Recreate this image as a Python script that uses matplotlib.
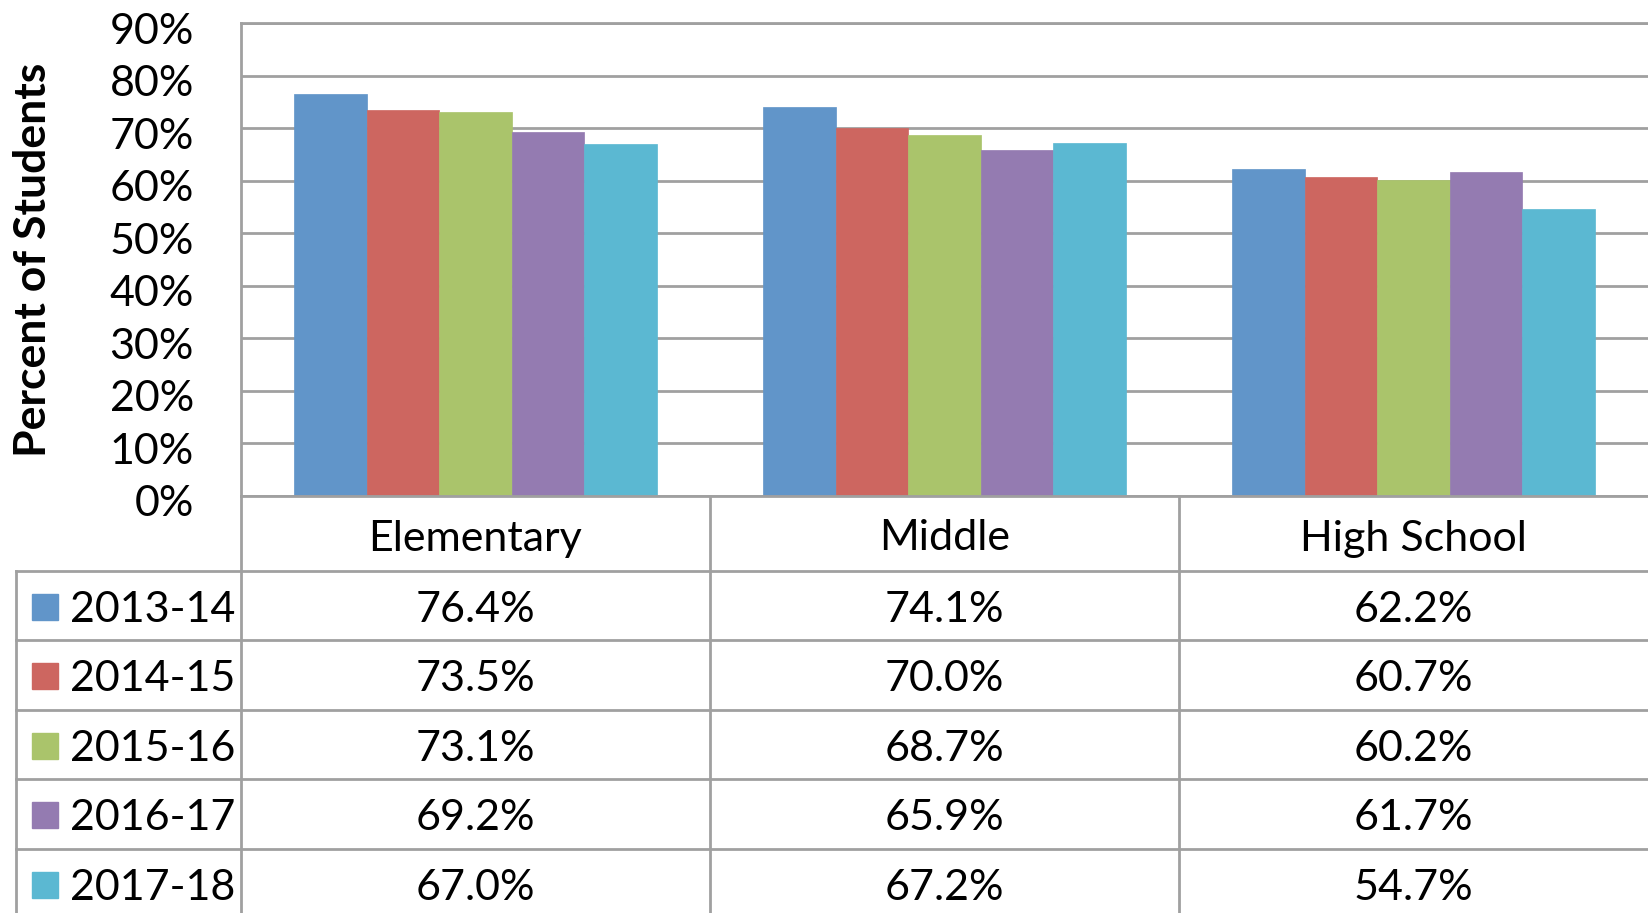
import matplotlib
matplotlib.use("Agg")
import matplotlib.pyplot as plt
import matplotlib.transforms as mtransforms
import numpy as np

plt.rcParams['font.family'] = ['Lato', 'DejaVu Sans']

# data
categories = ['Elementary', 'Middle', 'High School']
years = ['2013-14', '2014-15', '2015-16', '2016-17', '2017-18']
values = [
    [76.4, 74.1, 62.2],
    [73.5, 70.0, 60.7],
    [73.1, 68.7, 60.2],
    [69.2, 65.9, 61.7],
    [67.0, 67.2, 54.7],
]
colors = ['#6195C9', '#CD6660', '#AAC46B', '#947BB1', '#5BB8D2']
yticks = [0, 10, 20, 30, 40, 50, 60, 70, 80, 90]

# layout in pixels (figure 1648 x 913)
W, H = 1648, 913
ax_left, ax_top, ax_bot = 241, 23, 496
header_bot = 571
row_h = 69.5
leg_left = 16
grid_col = '#A0A0A0'
fs = 31

fig = plt.figure(figsize=(W / 100, H / 100), dpi=100)
ax = fig.add_axes([ax_left / W, 1 - ax_bot / H, (W - ax_left) / W, (ax_bot - ax_top) / H])

n = len(years)
bw = 0.773 / n
x = np.arange(len(categories))
for i, yr in enumerate(years):
    ax.bar(x - 0.773 / 2 + bw * (i + 0.5), values[i], width=bw, color=colors[i],
           edgecolor=colors[i], linewidth=0.5, zorder=3)

ax.set_xlim(-0.5, len(categories) - 0.5)
ax.set_ylim(0, 90)
ax.set_yticks(yticks)
ax.set_yticklabels([f'{t}%' for t in yticks], fontsize=fs)
ax.tick_params(axis='y', length=0, pad=34)
# nudge tick labels down a little, like the original
shift = mtransforms.ScaledTranslation(0, -5 / 100, fig.dpi_scale_trans)
for lab in ax.get_yticklabels():
    lab.set_transform(lab.get_transform() + shift)
ax.set_xticks([])
ax.grid(axis='y', color=grid_col, linewidth=2, zorder=0)
for s in ['right', 'bottom']:
    ax.spines[s].set_visible(False)
ax.spines['top'].set_color(grid_col)
ax.spines['top'].set_linewidth(2)
ax.spines['left'].set_color(grid_col)
ax.spines['left'].set_linewidth(2)

fig.text(33 / W, 1 - 260 / H, 'Percent of Students', rotation=90, ha='center', va='center',
         fontsize=32, fontweight='bold')

# table below the axes, drawn in pixel coordinates
tx = fig.add_axes([0, 0, 1, 1], zorder=5)
tx.set_xlim(0, W)
tx.set_ylim(H, 0)
tx.axis('off')
tx.patch.set_alpha(0)

cat_w = (W - ax_left) / len(categories)
col_edges = [ax_left + cat_w * k for k in range(len(categories) + 1)]
row_edges = [header_bot + row_h * k for k in range(n + 1)]

# horizontal lines
tx.plot([ax_left, W], [ax_bot, ax_bot], color=grid_col, lw=2)
for yv in row_edges[:-1]:
    tx.plot([leg_left, W], [yv, yv], color=grid_col, lw=2)
# vertical lines
tx.plot([leg_left, leg_left], [header_bot, H + 50], color=grid_col, lw=2)
for xv in col_edges[:-1]:
    tx.plot([xv, xv], [ax_bot, H + 50], color=grid_col, lw=2)

# header text
for k, cat in enumerate(categories):
    tx.text(col_edges[k] + cat_w / 2, (ax_bot + header_bot) / 2 + 5, cat,
            ha='center', va='center', fontsize=fs)

# rows
for i, yr in enumerate(years):
    yc = row_edges[i] + row_h / 2 + 4
    tx.add_patch(plt.Rectangle((32, yc - 16), 26, 26, color=colors[i]))
    tx.text(70, yc, yr, ha='left', va='center', fontsize=fs)
    for k in range(len(categories)):
        tx.text(col_edges[k] + cat_w / 2, yc, f'{values[i][k]:.1f}%',
                ha='center', va='center', fontsize=fs)

fig.savefig('out.png', dpi=100)
